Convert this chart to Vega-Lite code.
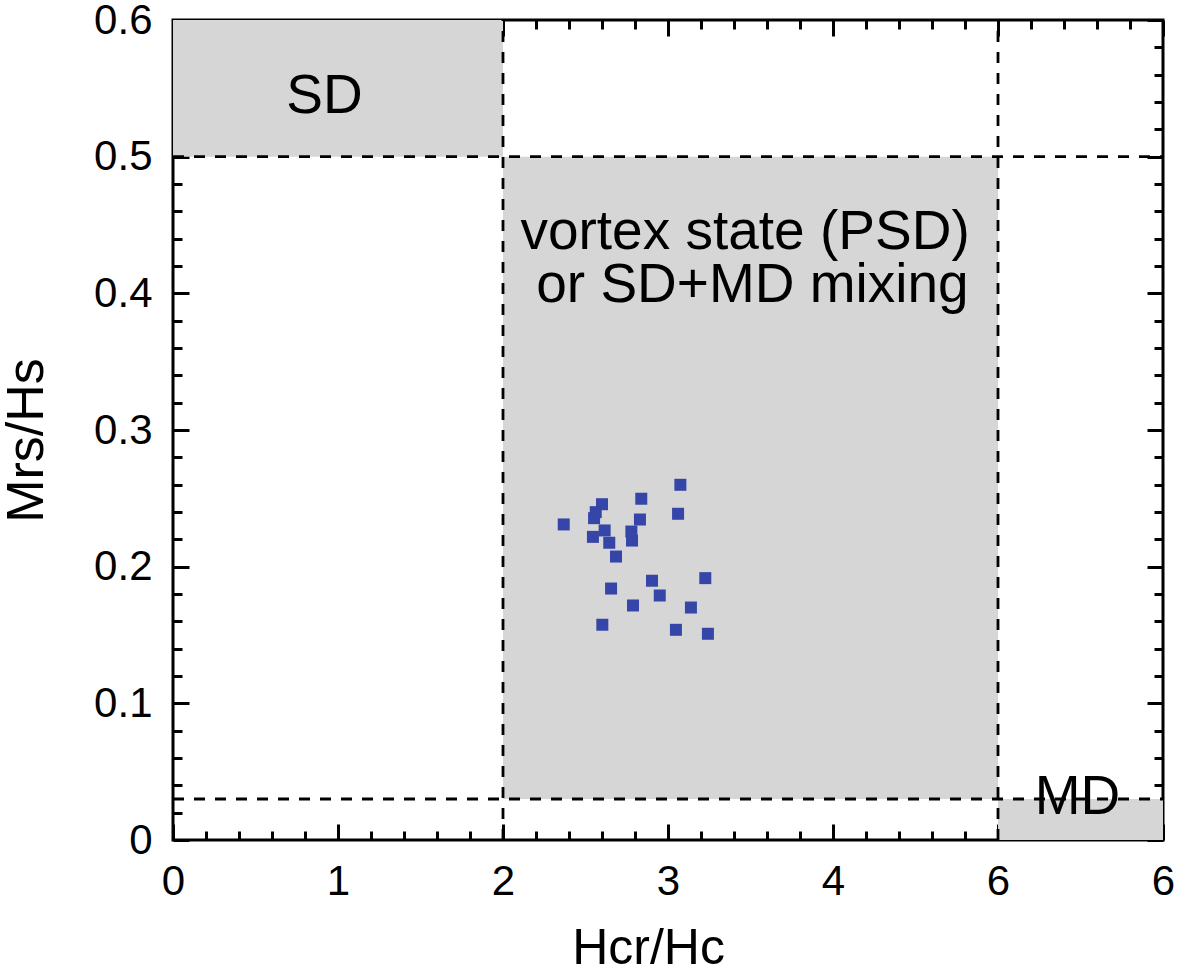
{
  "$schema": "https://vega.github.io/schema/vega-lite/v6.json",
  "width": 990,
  "height": 820,
  "autosize": {"type": "none"},
  "padding": {"left": 173, "top": 20, "right": 18, "bottom": 130},
  "background": "white",
  "config": {
    "view": {"stroke": "black", "strokeWidth": 3},
    "axis": {
      "domain": false,
      "grid": false,
      "tickColor": "black",
      "tickWidth": 3,
      "labelFont": "Liberation Sans",
      "labelFontSize": 42,
      "labelColor": "black",
      "titleFont": "Liberation Sans",
      "titleColor": "black",
      "titleFontWeight": "normal"
    }
  },
  "datasets": {
    "regions": [
      {"name": "SD", "x": 0, "x2": 2, "y": 0.5, "y2": 0.6},
      {"name": "PSD", "x": 2, "x2": 5, "y": 0.03, "y2": 0.5},
      {"name": "MD", "x": 5, "x2": 6, "y": 0, "y2": 0.03}
    ],
    "lines": [
      {"x": 2, "x2": 2, "y": 0, "y2": 0.6},
      {"x": 5, "x2": 5, "y": 0, "y2": 0.6},
      {"x": 0, "x2": 6, "y": 0.5, "y2": 0.5},
      {"x": 0, "x2": 6, "y": 0.03, "y2": 0.03}
    ],
    "samples": [
      {"hcr_hc": 2.368, "mrs_hs": 0.2309},
      {"hcr_hc": 2.600, "mrs_hs": 0.2457},
      {"hcr_hc": 2.562, "mrs_hs": 0.2399},
      {"hcr_hc": 2.552, "mrs_hs": 0.2355},
      {"hcr_hc": 2.838, "mrs_hs": 0.2497},
      {"hcr_hc": 3.075, "mrs_hs": 0.2599},
      {"hcr_hc": 2.830, "mrs_hs": 0.2345},
      {"hcr_hc": 3.061, "mrs_hs": 0.2387},
      {"hcr_hc": 2.616, "mrs_hs": 0.2265},
      {"hcr_hc": 2.545, "mrs_hs": 0.2218},
      {"hcr_hc": 2.778, "mrs_hs": 0.2257},
      {"hcr_hc": 2.782, "mrs_hs": 0.2191},
      {"hcr_hc": 2.644, "mrs_hs": 0.2175},
      {"hcr_hc": 2.685, "mrs_hs": 0.2074},
      {"hcr_hc": 2.903, "mrs_hs": 0.1897},
      {"hcr_hc": 2.655, "mrs_hs": 0.1840},
      {"hcr_hc": 3.226, "mrs_hs": 0.1916},
      {"hcr_hc": 2.950, "mrs_hs": 0.1789},
      {"hcr_hc": 2.788, "mrs_hs": 0.1716},
      {"hcr_hc": 3.139, "mrs_hs": 0.1701},
      {"hcr_hc": 2.602, "mrs_hs": 0.1575},
      {"hcr_hc": 3.048, "mrs_hs": 0.1538},
      {"hcr_hc": 3.242, "mrs_hs": 0.1509}
    ],
    "labels": [
      {"text": "SD", "x": 0.918, "y": 0.5323},
      {"text": "vortex state (PSD)", "x": 3.467, "y": 0.4321},
      {"text": "or SD+MD mixing", "x": 3.512, "y": 0.3935},
      {"text": "MD", "x": 5.482, "y": 0.0187}
    ]
  },
  "resolve": {"axis": {"x": "independent", "y": "independent"}},
  "layer": [
    {
      "data": {"name": "regions"},
      "mark": {"type": "rect", "color": "#d6d6d6"},
      "encoding": {
        "x": {
          "field": "x", "type": "quantitative",
          "scale": {"domain": [0, 6], "nice": false, "zero": false},
          "axis": {
            "orient": "bottom",
            "values": [0, 1, 2, 3, 4, 5, 6],
            "tickSize": -16,
            "labelPadding": 37,
            "labelExpr": "datum.value == 5 ? '6' : datum.label",
            "labelFlush": false,
            "title": "Hcr/Hc",
            "titleFontSize": 50,
            "titleAlign": "center",
            "titleBaseline": "alphabetic",
            "titleX": 475,
            "titleY": 123
          }
        },
        "x2": {"field": "x2"},
        "y": {
          "field": "y", "type": "quantitative",
          "scale": {"domain": [0, 0.6], "nice": false, "zero": false},
          "axis": {
            "orient": "left",
            "values": [0, 0.1, 0.2, 0.3, 0.4, 0.5, 0.6],
            "tickSize": -16,
            "labelPadding": 37,
            "labelExpr": "datum.value == 0 ? '0' : format(datum.value, '.1f')",
            "labelFlush": false,
            "title": "Mrs/Hs",
            "titleFontSize": 52,
            "titleAngle": -90,
            "titleAlign": "center",
            "titleBaseline": "alphabetic",
            "titleX": -131,
            "titleY": 420
          }
        },
        "y2": {"field": "y2"}
      }
    },
    {
      "data": {"name": "lines"},
      "mark": {"type": "rule", "color": "black", "strokeWidth": 2.8, "strokeDash": [11, 10]},
      "encoding": {
        "x": {
          "field": "x", "type": "quantitative",
          "scale": {"domain": [0, 6], "nice": false, "zero": false},
          "axis": {
            "orient": "bottom",
            "values": [0.2,0.4,0.6,0.8,1.2,1.4,1.6,1.8,2.2,2.4,2.6,2.8,3.2,3.4,3.6,3.8,4.2,4.4,4.6,4.8,5.2,5.4,5.6,5.8],
            "tickSize": -9,
            "labels": false,
            "title": null
          }
        },
        "x2": {"field": "x2"},
        "y": {
          "field": "y", "type": "quantitative",
          "scale": {"domain": [0, 0.6], "nice": false, "zero": false},
          "axis": {
            "orient": "left",
            "values": [0.02,0.04,0.06,0.08,0.12,0.14,0.16,0.18,0.22,0.24,0.26,0.28,0.32,0.34,0.36,0.38,0.42,0.44,0.46,0.48,0.52,0.54,0.56,0.58],
            "tickSize": -9,
            "labels": false,
            "title": null
          }
        },
        "y2": {"field": "y2"}
      }
    },
    {
      "data": {"name": "samples"},
      "mark": {"type": "point", "shape": "square", "filled": true, "color": "#3546a8", "opacity": 1, "size": 144},
      "encoding": {
        "x": {
          "field": "hcr_hc", "type": "quantitative",
          "scale": {"domain": [0, 6], "nice": false, "zero": false},
          "axis": {
            "orient": "top",
            "values": [0, 1, 2, 3, 4, 5, 6],
            "tickSize": -16,
            "labels": false,
            "title": null
          }
        },
        "y": {
          "field": "mrs_hs", "type": "quantitative",
          "scale": {"domain": [0, 0.6], "nice": false, "zero": false},
          "axis": {
            "orient": "right",
            "values": [0, 0.1, 0.2, 0.3, 0.4, 0.5, 0.6],
            "tickSize": -16,
            "labels": false,
            "title": null
          }
        }
      }
    },
    {
      "data": {"name": "labels"},
      "mark": {"type": "text", "font": "Liberation Sans", "fontSize": 55, "color": "black", "align": "center", "baseline": "alphabetic"},
      "encoding": {
        "x": {
          "field": "x", "type": "quantitative",
          "scale": {"domain": [0, 6], "nice": false, "zero": false},
          "axis": {
            "orient": "top",
            "values": [0.2,0.4,0.6,0.8,1.2,1.4,1.6,1.8,2.2,2.4,2.6,2.8,3.2,3.4,3.6,3.8,4.2,4.4,4.6,4.8,5.2,5.4,5.6,5.8],
            "tickSize": -9,
            "labels": false,
            "title": null
          }
        },
        "y": {
          "field": "y", "type": "quantitative",
          "scale": {"domain": [0, 0.6], "nice": false, "zero": false},
          "axis": {
            "orient": "right",
            "values": [0.02,0.04,0.06,0.08,0.12,0.14,0.16,0.18,0.22,0.24,0.26,0.28,0.32,0.34,0.36,0.38,0.42,0.44,0.46,0.48,0.52,0.54,0.56,0.58],
            "tickSize": -9,
            "labels": false,
            "title": null
          }
        },
        "text": {"field": "text"}
      }
    }
  ]
}
